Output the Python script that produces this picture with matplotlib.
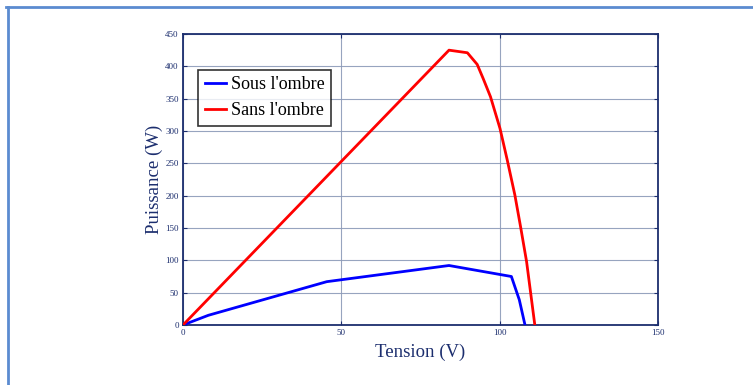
import matplotlib
matplotlib.use("Agg")
import matplotlib.pyplot as plt
from matplotlib.lines import Line2D

# Data
v_shade = [0, 8, 45.4, 84, 103.7, 106.2, 108]
p_shade = [0, 15, 67, 92, 75, 39, 0]

v_sun = [0, 84, 89.8, 92.9, 94.8, 97.1, 100.1, 102.4, 104.8, 106.6, 108.5, 111.1]
p_sun = [0, 425, 421, 403, 381, 353, 304, 255, 201, 152, 98, 0]

x_ticks = [0, 50, 100, 150]
y_ticks = [0, 50, 100, 150, 200, 250, 300, 350, 400, 450]

navy = "#1c2e6e"
gridc = "#8c9ab8"

plt.rcParams['font.family'] = ['Liberation Serif', 'DejaVu Serif']

fig = plt.figure(figsize=(7.53, 3.85), dpi=100)
ax = fig.add_axes([183/753, 1-325/385, 475/753, 291/385])

ax.plot(v_shade, p_shade, color="#0000ff", lw=2, label="Sous l'ombre", zorder=3)
ax.plot(v_sun, p_sun, color="#ff0000", lw=2, label="Sans l'ombre", zorder=3)

ax.set_xlim(0, 150)
ax.set_ylim(0, 450)
ax.set_xticks(x_ticks)
ax.set_yticks(y_ticks)
ax.grid(True, color=gridc, lw=0.8, alpha=0.9)
ax.tick_params(direction="in", top=True, right=True, length=3, width=0.8,
               colors=navy, labelsize=6.5, pad=3)
for s in ax.spines.values():
    s.set_color(navy)
    s.set_linewidth(1.3)

ax.set_xlabel("Tension (V)", color=navy, fontsize=13.5, labelpad=5)
ax.set_ylabel("Puissance (W)", color=navy, fontsize=13.5, labelpad=2)

leg = ax.legend(loc="upper left", bbox_to_anchor=(0.032, 0.876), fontsize=13,
                frameon=True, fancybox=False, edgecolor="black",
                borderpad=0.35, handlelength=1.2, handletextpad=0.25,
                labelspacing=0.5, borderaxespad=0)
leg.get_frame().set_linewidth(1.2)

# figure border lines (top and left)
fig.add_artist(Line2D([6/753, 1], [1-7/385, 1-7/385], color="#5b8bd0", lw=2,
                      transform=fig.transFigure))
fig.add_artist(Line2D([8/753, 8/753], [0, 1-7/385], color="#5b8bd0", lw=2,
                      transform=fig.transFigure))

fig.savefig("out.png", dpi=100)
